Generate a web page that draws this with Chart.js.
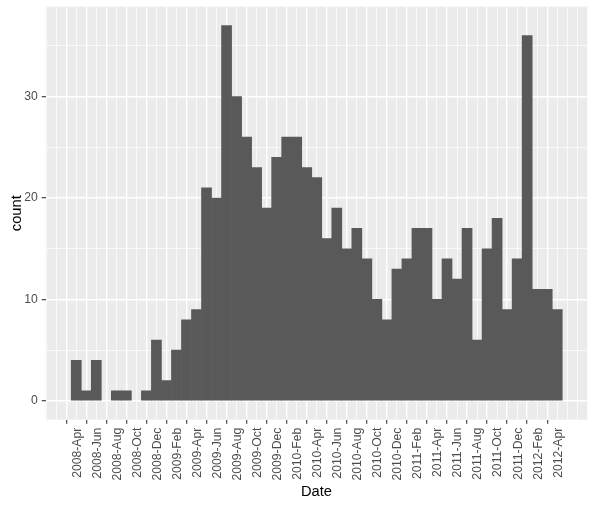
<!DOCTYPE html>
<html>
<head>
<meta charset="utf-8">
<script src="https://cdn.jsdelivr.net/npm/chart.js@4.4.0/dist/chart.umd.min.js"></script>
<style>
html,body{margin:0;padding:0;background:#ffffff;}
canvas{display:block;}
</style>
</head>
<body>
<canvas id="c" width="595" height="507"></canvas>
<script>
// Monthly bins (first day of each month), starting 2008-Apr
const binMonths = [
  '2008-04','2008-05','2008-06','2008-07','2008-08','2008-09','2008-10','2008-11','2008-12',
  '2009-01','2009-02','2009-03','2009-04','2009-05','2009-06','2009-07','2009-08','2009-09','2009-10','2009-11','2009-12',
  '2010-01','2010-02','2010-03','2010-04','2010-05','2010-06','2010-07','2010-08','2010-09','2010-10','2010-11','2010-12',
  '2011-01','2011-02','2011-03','2011-04','2011-05','2011-06','2011-07','2011-08','2011-09','2011-10','2011-11','2011-12',
  '2012-01','2012-02','2012-03','2012-04'
];
const counts = [
  4,1,4,0,1,1,0,1,6,
  2,5,8,9,21,20,37,30,26,23,19,24,
  26,26,23,22,16,19,15,17,14,10,8,13,
  14,17,17,10,14,12,17,6,15,18,9,14,
  36,11,11,9
];
// x tick labels, every 2 months from 2008-Apr
const tickLabels = [
  '2008-Apr','2008-Jun','2008-Aug','2008-Oct','2008-Dec',
  '2009-Feb','2009-Apr','2009-Jun','2009-Aug','2009-Oct','2009-Dec',
  '2010-Feb','2010-Apr','2010-Jun','2010-Aug','2010-Oct','2010-Dec',
  '2011-Feb','2011-Apr','2011-Jun','2011-Aug','2011-Oct','2011-Dec',
  '2012-Feb','2012-Apr'
];
const yGridValues = [0,5,10,15,20,25,30,35];
const yLabelValues = [0,10,20,30];
const xTitle = 'Date';
const yTitle = 'count';

const FONT = "'Liberation Sans', Arial, Helvetica, sans-serif";
const barData = counts.map((v, i) => ({ x: i + 0.5, y: v, month: binMonths[i] }));
const xMinGrid = -2, xMaxGrid = binMonths.length + 1;

function isMajorX(v) { return v >= 0 && v % 2 === 0 && v / 2 < tickLabels.length; }
function isMajorY(v) { return yLabelValues.indexOf(v) !== -1; }
function tv(ctx) { return (ctx && ctx.tick) ? ctx.tick.value : NaN; }

const panelBg = {
  id: 'panelBg',
  beforeDraw(chart) {
    const a = chart.chartArea, ctx = chart.ctx;
    ctx.save();
    ctx.fillStyle = '#EBEBEB';
    ctx.fillRect(a.left, a.top, a.right - a.left, a.bottom - a.top);
    ctx.restore();
  }
};

new Chart(document.getElementById('c'), {
  type: 'bar',
  data: {
    datasets: [{
      data: barData,
      backgroundColor: '#595959',
      borderWidth: 0,
      barPercentage: 1,
      categoryPercentage: 1,
      inflateAmount: ctx => (ctx.parsed && ctx.parsed.y === 0) ? 0 : 0.33
    }]
  },
  plugins: [panelBg],
  options: {
    responsive: false,
    animation: false,
    events: [],
    layout: { padding: { top: 6.7, right: 7.7, left: 0, bottom: 0 } },
    plugins: { legend: { display: false }, tooltip: { enabled: false }, title: { display: false } },
    scales: {
      x: {
        type: 'linear',
        offset: false,
        min: -2.55,
        max: binMonths.length + 2.5,
        afterBuildTicks(scale) {
          const t = [];
          for (let v = xMinGrid; v <= xMaxGrid; v++) t.push({ value: v });
          scale.ticks = t;
        },
        afterFit(scale) {
          scale.height = 87.3;
          scale.paddingLeft = 0; scale.paddingRight = 0;
          scale.paddingTop = 0; scale.paddingBottom = 0;
        },
        border: { display: false },
        grid: {
          color: '#FFFFFF',
          lineWidth: ctx => isMajorX(tv(ctx)) ? 1.4 : 0.7,
          drawTicks: true,
          tickLength: 4,
          tickWidth: 1.1,
          tickColor: ctx => isMajorX(tv(ctx)) ? '#333333' : 'rgba(0,0,0,0)'
        },
        ticks: {
          autoSkip: false,
          minRotation: 90,
          maxRotation: 90,
          padding: 4,
          labelOffset: 6,
          color: '#4D4D4D',
          font: { family: FONT, size: 12.2 },
          callback: v => isMajorX(v) ? tickLabels[v / 2] : ''
        },
        title: {
          display: true,
          text: xTitle,
          color: '#000000',
          font: { family: FONT, size: 14.7 },
          padding: { top: 0, bottom: 6.7 }
        }
      },
      y: {
        type: 'linear',
        min: -1.85,
        max: 38.85,
        afterBuildTicks(scale) { scale.ticks = yGridValues.map(v => ({ value: v })); },
        afterFit(scale) {
          scale.width = 45.7;
          scale.paddingTop = 0; scale.paddingBottom = 0;
          scale.paddingLeft = 0; scale.paddingRight = 0;
        },
        border: { display: false },
        grid: {
          color: '#FFFFFF',
          lineWidth: ctx => isMajorY(tv(ctx)) ? 1.4 : 0.7,
          drawTicks: true,
          tickLength: 4,
          tickWidth: 1.1,
          tickColor: ctx => isMajorY(tv(ctx)) ? '#333333' : 'rgba(0,0,0,0)'
        },
        ticks: {
          padding: 4,
          color: '#4D4D4D',
          font: { family: FONT, size: 12.2 },
          callback: v => isMajorY(v) ? String(v) : ''
        },
        title: {
          display: true,
          text: yTitle,
          color: '#000000',
          font: { family: FONT, size: 14.7 },
          padding: { top: 7.8, bottom: 0 }
        }
      }
    }
  }
});
</script>
</body>
</html>
